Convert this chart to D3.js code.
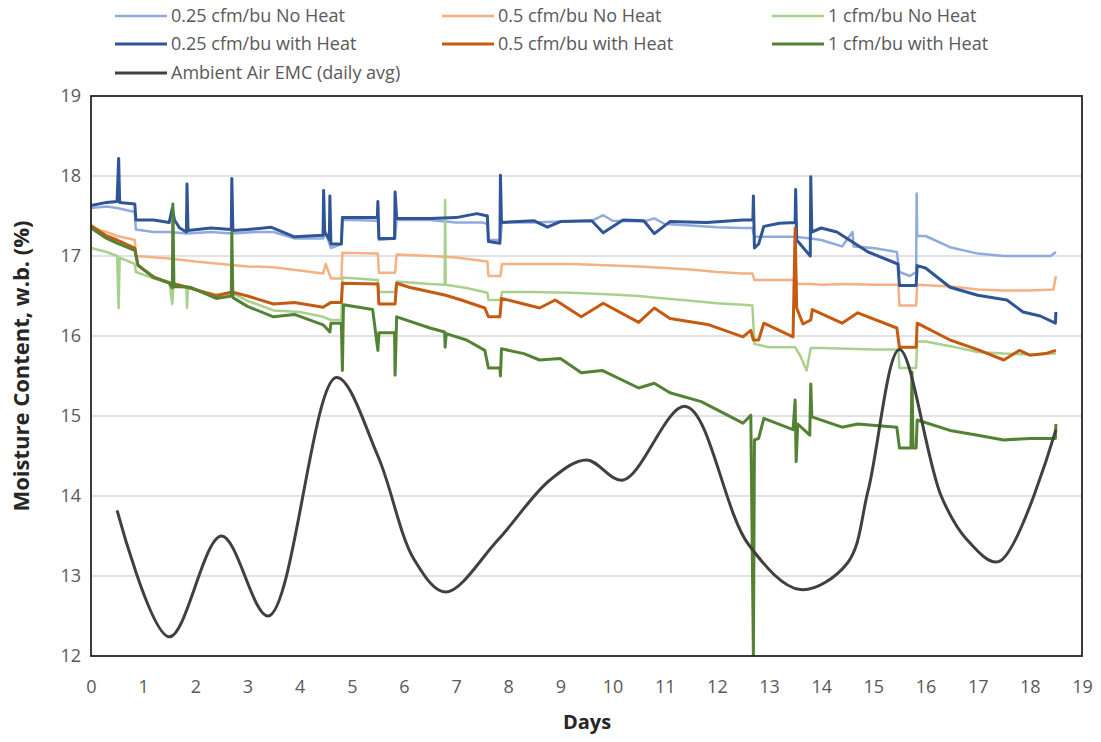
<!DOCTYPE html>
<html><head><meta charset="utf-8">
<script src="https://cdn.jsdelivr.net/npm/d3@7"></script>
<style>body{margin:0;background:#fff}svg{display:block}</style>
</head><body><svg id="c" width="1101" height="742"></svg>
<script>
const xTicks = d3.range(0, 20);
const yTicks = [12, 13, 14, 15, 16, 17, 18, 19];
const seriesNames = ["0.25 cfm/bu No Heat","0.5 cfm/bu No Heat","1 cfm/bu No Heat","0.25 cfm/bu with Heat","0.5 cfm/bu with Heat","1 cfm/bu with Heat","Ambient Air EMC (daily avg)"];
const seriesColors = ["#8FAADC","#F4B183","#A9D18E","#2F5597","#C55A11","#548235","#404040"];

const lowNoHeat = [[0,17.6],[0.3,17.62],[0.5,17.6],[0.84,17.55],[0.86,17.33],[1.2,17.3],[1.5,17.3],[1.84,17.28],[2.3,17.3],[2.7,17.28],[3.2,17.3],[3.5,17.3],[3.9,17.22],[4.45,17.22],[4.5,17.3],[4.6,17.1],[4.8,17.15],[4.82,17.45],[5.0,17.45],[5.5,17.44],[5.52,17.2],[5.83,17.22],[5.86,17.45],[6.5,17.45],[7.0,17.42],[7.5,17.42],[7.6,17.4],[7.62,17.2],[7.85,17.2],[7.88,17.42],[8.5,17.42],[9.0,17.43],[9.6,17.44],[9.82,17.51],[10.0,17.44],[10.6,17.43],[10.8,17.47],[11.0,17.4],[11.5,17.38],[12.0,17.36],[12.5,17.35],[12.68,17.35],[12.72,17.24],[13.0,17.24],[13.5,17.24],[13.8,17.22],[14.0,17.2],[14.4,17.12],[14.6,17.3],[14.62,17.12],[15.0,17.1],[15.45,17.05],[15.5,16.8],[15.7,16.75],[15.82,16.8],[15.83,17.78],[15.84,17.25],[16.0,17.25],[16.47,17.11],[17.0,17.03],[17.5,17.0],[18.0,17.0],[18.4,17.0],[18.5,17.05]];
const midNoHeat = [[0,17.35],[0.3,17.3],[0.5,17.25],[0.84,17.2],[0.86,17.0],[1.5,16.97],[2.0,16.93],[2.5,16.9],[3.0,16.87],[3.5,16.86],[4.0,16.82],[4.45,16.78],[4.5,16.9],[4.6,16.72],[4.8,16.72],[4.82,17.04],[5.5,17.03],[5.52,16.79],[5.83,16.79],[5.86,17.02],[6.5,17.0],[7.0,16.98],[7.6,16.93],[7.62,16.75],[7.85,16.75],[7.88,16.9],[8.5,16.9],[9.2,16.9],[10.0,16.88],[10.5,16.87],[11.0,16.85],[11.5,16.83],[12.0,16.8],[12.5,16.78],[12.68,16.78],[12.72,16.7],[13.5,16.7],[13.55,16.65],[13.8,16.65],[14.0,16.64],[14.5,16.65],[15.0,16.64],[15.48,16.64],[15.5,16.38],[15.82,16.38],[15.84,16.64],[16.5,16.62],[17.0,16.58],[17.5,16.57],[18.0,16.57],[18.45,16.58],[18.5,16.75]];
const highNoHeat = [[0,17.1],[0.3,17.05],[0.5,17.0],[0.53,16.35],[0.55,16.98],[0.84,16.9],[0.86,16.8],[1.2,16.72],[1.5,16.68],[1.56,16.4],[1.58,16.66],[1.83,16.62],[1.84,16.35],[1.86,16.6],[2.4,16.52],[2.7,16.54],[3.0,16.44],[3.5,16.32],[4.0,16.3],[4.45,16.24],[4.6,16.2],[4.8,16.2],[4.82,16.73],[5.5,16.7],[5.52,16.55],[5.83,16.55],[5.86,16.68],[6.5,16.65],[6.78,16.64],[6.79,17.7],[6.8,16.64],[7.2,16.6],[7.6,16.54],[7.62,16.45],[7.85,16.45],[7.88,16.55],[8.5,16.55],[9.2,16.54],[10.0,16.52],[10.5,16.5],[11.0,16.47],[11.5,16.44],[12.0,16.41],[12.5,16.39],[12.68,16.38],[12.72,15.9],[13.0,15.86],[13.5,15.86],[13.6,15.75],[13.72,15.57],[13.8,15.85],[14.0,15.85],[14.5,15.84],[15.0,15.83],[15.48,15.83],[15.5,15.6],[15.82,15.6],[15.84,15.93],[16.0,15.93],[16.5,15.87],[17.0,15.8],[17.5,15.78],[18.0,15.77],[18.5,15.78]];
const lowHeat = [[0,17.63],[0.3,17.67],[0.5,17.68],[0.53,18.22],[0.55,17.67],[0.84,17.65],[0.86,17.45],[1.2,17.45],[1.5,17.42],[1.56,17.6],[1.6,17.45],[1.7,17.35],[1.83,17.3],[1.84,17.9],[1.86,17.32],[2.3,17.35],[2.69,17.33],[2.7,17.97],[2.72,17.32],[3.0,17.33],[3.45,17.36],[3.9,17.24],[4.45,17.26],[4.46,17.82],[4.48,17.3],[4.57,17.2],[4.58,17.75],[4.6,17.15],[4.8,17.15],[4.82,17.48],[5.49,17.48],[5.5,17.68],[5.52,17.22],[5.82,17.22],[5.83,17.8],[5.86,17.47],[6.5,17.47],[7.0,17.48],[7.4,17.53],[7.6,17.5],[7.62,17.18],[7.84,17.16],[7.85,18.01],[7.87,17.42],[8.5,17.44],[8.75,17.36],[9.0,17.43],[9.6,17.44],[9.82,17.29],[10.2,17.45],[10.6,17.44],[10.8,17.28],[11.1,17.43],[11.8,17.42],[12.5,17.45],[12.69,17.45],[12.7,17.75],[12.72,17.1],[12.8,17.15],[12.9,17.37],[13.2,17.41],[13.5,17.42],[13.51,17.83],[13.53,17.2],[13.79,17.0],[13.8,17.99],[13.82,17.3],[14.0,17.35],[14.3,17.3],[14.9,17.05],[15.47,16.9],[15.5,16.63],[15.82,16.63],[15.84,16.88],[16.0,16.85],[16.47,16.61],[17.0,16.51],[17.56,16.45],[17.87,16.3],[18.2,16.25],[18.49,16.16],[18.5,16.3]];
const midHeat = [[0,17.38],[0.3,17.25],[0.5,17.2],[0.84,17.1],[0.9,16.88],[1.2,16.74],[1.48,16.67],[1.9,16.6],[2.4,16.5],[2.7,16.55],[3.0,16.5],[3.5,16.4],[3.9,16.42],[4.45,16.36],[4.6,16.42],[4.8,16.42],[4.82,16.66],[5.5,16.65],[5.52,16.4],[5.83,16.4],[5.86,16.66],[6.1,16.61],[6.8,16.51],[7.1,16.45],[7.55,16.35],[7.62,16.24],[7.84,16.24],[7.87,16.47],[8.3,16.4],[8.6,16.35],[8.9,16.45],[9.4,16.24],[9.82,16.41],[10.5,16.17],[10.8,16.35],[11.1,16.22],[11.85,16.14],[12.5,15.99],[12.65,16.07],[12.7,15.95],[12.8,15.95],[12.9,16.16],[13.46,15.99],[13.5,17.35],[13.53,16.35],[13.65,16.15],[13.8,16.2],[13.83,16.33],[14.4,16.16],[14.7,16.29],[15.45,16.1],[15.5,15.86],[15.82,15.86],[15.84,16.16],[16.47,15.95],[17.0,15.83],[17.5,15.7],[17.8,15.82],[18.0,15.76],[18.3,15.78],[18.5,15.82]];
const highHeat = [[0,17.35],[0.3,17.22],[0.5,17.16],[0.84,17.07],[0.9,16.89],[1.2,16.73],[1.5,16.66],[1.56,16.6],[1.57,17.65],[1.59,16.62],[1.9,16.61],[2.4,16.47],[2.69,16.5],[2.7,17.3],[2.72,16.48],[3.0,16.37],[3.5,16.24],[3.9,16.27],[4.45,16.14],[4.58,16.05],[4.6,16.16],[4.8,16.16],[4.82,15.57],[4.84,16.39],[5.4,16.33],[5.5,15.82],[5.52,16.04],[5.82,16.04],[5.83,15.51],[5.86,16.24],[6.5,16.1],[6.78,16.05],[6.79,15.86],[6.81,16.03],[7.2,15.95],[7.55,15.82],[7.62,15.6],[7.84,15.6],[7.85,15.5],[7.87,15.84],[8.3,15.78],[8.6,15.7],[9.0,15.72],[9.4,15.54],[9.8,15.57],[10.5,15.35],[10.8,15.41],[11.1,15.29],[11.7,15.18],[12.5,14.91],[12.65,15.01],[12.7,12.0],[12.72,14.7],[12.8,14.72],[12.9,14.97],[13.46,14.83],[13.5,15.2],[13.52,14.43],[13.55,14.9],[13.78,14.76],[13.8,15.4],[13.82,14.99],[14.4,14.86],[14.7,14.9],[15.45,14.86],[15.5,14.6],[15.72,14.6],[15.74,15.55],[15.76,14.6],[15.82,14.6],[15.84,14.95],[16.47,14.82],[17.0,14.76],[17.5,14.7],[18.0,14.72],[18.49,14.72],[18.5,14.9]];
const ambientEMC = [[0.5,13.82],[1.5,12.24],[2.5,13.5],[3.4,12.5],[4.7,15.48],[5.5,14.5],[6.2,13.2],[6.8,12.8],[7.8,13.45],[8.8,14.2],[9.5,14.45],[10.2,14.2],[11.4,15.12],[12.6,13.4],[13.6,12.83],[14.5,13.16],[14.9,14.07],[15.5,15.83],[16.3,14.0],[16.8,13.45],[17.4,13.18],[18.5,14.83]];

const seriesData = [lowNoHeat, midNoHeat, highNoHeat, lowHeat, midHeat, highHeat, ambientEMC];
const seriesWidths = [2.5, 2.5, 2.5, 3, 3, 3, 3];

const svg = d3.select("#c");
const m = {l: 91, r: 1082, t: 96, b: 656};
const x = d3.scaleLinear().domain([0, 19]).range([m.l, m.r]);
const y = d3.scaleLinear().domain([12, 19]).range([m.b, m.t]);
const FONT = "'Open Sans', 'Liberation Sans', sans-serif";

svg.append("g").selectAll("line").data(yTicks.filter(v => v > 12 && v < 19)).join("line")
  .attr("x1", m.l).attr("x2", m.r).attr("y1", d => y(d)).attr("y2", d => y(d))
  .attr("stroke", "#D9D9D9").attr("stroke-width", 1.5);

const yAxis = svg.append("g").attr("transform", `translate(${m.l},0)`)
  .call(d3.axisLeft(y).tickValues(yTicks).tickFormat(d3.format("d")).tickSize(0).tickPadding(10));
yAxis.select(".domain").remove();
yAxis.selectAll("text").attr("font-family", FONT).attr("font-size", 18).attr("fill", "#595959");

const xAxis = svg.append("g").attr("transform", `translate(0,${m.b})`)
  .call(d3.axisBottom(x).tickValues(xTicks).tickFormat(d3.format("d")).tickSize(0).tickPadding(24));
xAxis.select(".domain").remove();
xAxis.selectAll("text").attr("font-family", FONT).attr("font-size", 18).attr("fill", "#595959");

svg.append("defs").append("clipPath").attr("id", "clip").append("rect")
  .attr("x", m.l).attr("y", m.t).attr("width", m.r - m.l).attr("height", m.b - m.t);

const lineStep = d3.line().x(d => x(d[0])).y(d => y(d[1]));
const lineSmooth = d3.line().x(d => x(d[0])).y(d => y(d[1])).curve(d3.curveCatmullRom.alpha(0.5));

const g = svg.append("g").attr("clip-path", "url(#clip)");
seriesData.forEach((data, i) => {
  g.append("path").datum(data)
    .attr("d", i === 6 ? lineSmooth : lineStep)
    .attr("fill", "none").attr("stroke", seriesColors[i])
    .attr("stroke-width", seriesWidths[i]).attr("stroke-linejoin", "round");
});

svg.append("rect").attr("x", m.l).attr("y", m.t).attr("width", m.r - m.l).attr("height", m.b - m.t)
  .attr("fill", "none").attr("stroke", "#262626").attr("stroke-width", 1.8);

svg.append("text").attr("transform", `translate(21,366) rotate(-90)`)
  .attr("text-anchor", "middle").attr("dy", "0.35em").attr("font-family", FONT).attr("font-weight", "bold")
  .attr("font-size", 22).attr("fill", "#262626").text("Moisture Content, w.b. (%)");
svg.append("text").attr("x", 587).attr("y", 722).attr("dy", "0.35em")
  .attr("text-anchor", "middle").attr("font-family", FONT).attr("font-weight", "bold")
  .attr("font-size", 20).attr("fill", "#262626").text("Days");

const legendPos = [[115,16],[442,16],[772,16],[115,44],[442,44],[772,44],[115,73]];
seriesNames.forEach((name, i) => {
  const [lx, ly] = legendPos[i];
  svg.append("line").attr("x1", lx).attr("x2", lx + 52).attr("y1", ly).attr("y2", ly)
    .attr("stroke", seriesColors[i]).attr("stroke-width", seriesWidths[i]);
  svg.append("text").attr("x", lx + 56).attr("y", ly).attr("dy", "0.35em")
    .attr("font-family", FONT).attr("font-size", 18).attr("fill", "#595959").text(name);
});
</script></body></html>
